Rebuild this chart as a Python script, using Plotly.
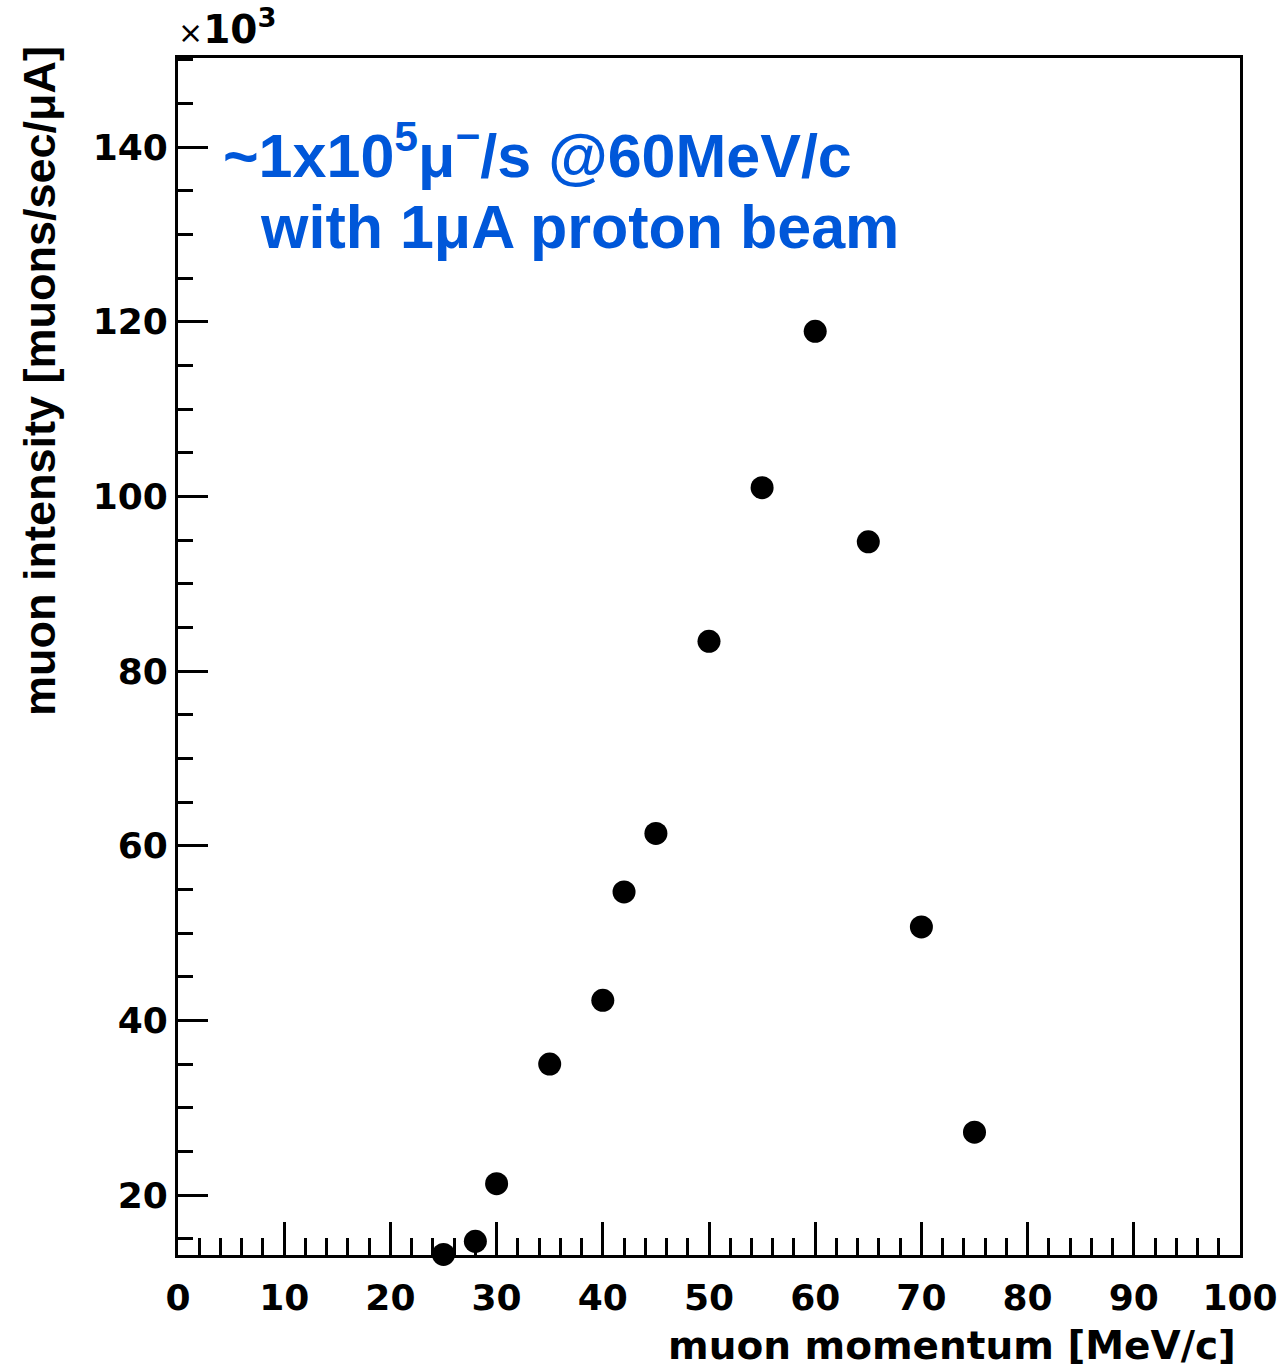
import plotly.graph_objects as go

# muon momentum [MeV/c]
momentum = [25, 28, 30, 35, 40, 42, 45, 50, 55, 60, 65, 70, 75]
# muon intensity [muons/sec/uA], in units of 10^3
intensity = [13.2, 14.7, 21.3, 35.0, 42.3, 54.7, 61.4, 83.4, 101.0, 118.9, 94.8, 50.7, 27.2]

x_ticks = [0, 10, 20, 30, 40, 50, 60, 70, 80, 90, 100]
y_ticks = [20, 40, 60, 80, 100, 120, 140]

W, H = 1280, 1370
L, R, T, B = 178, 40, 58, 115
PW, PH = W - L - R, H - T - B


def px(xp):
    return (xp - L) / PW


def py(yp):
    return (H - B - yp) / PH


fig = go.Figure()
fig.add_trace(go.Scatter(
    x=momentum, y=intensity, mode="markers",
    marker=dict(symbol="circle", size=23, color="black"),
    cliponaxis=False, showlegend=False,
))

tickfont = dict(family="DejaVu Sans", size=36, color="black", weight="bold")
fig.update_layout(
    width=W, height=H,
    margin=dict(l=L, r=R, t=T, b=B, autoexpand=False),
    paper_bgcolor="white", plot_bgcolor="white",
    xaxis=dict(
        range=[0, 100], tickvals=x_ticks, ticktext=[str(v) for v in x_ticks],
        ticks="inside", ticklen=33, tickwidth=2.5, tickcolor="black",
        minor=dict(dtick=2, tick0=0, ticks="inside", ticklen=17, tickwidth=2.5, tickcolor="black"),
        showline=True, linewidth=3, linecolor="black", mirror=True,
        showgrid=False, zeroline=False, tickfont=tickfont, ticklabelstandoff=9,
        automargin=False,
    ),
    yaxis=dict(
        range=[13.13, 150.2], tickvals=y_ticks, ticktext=[str(v) for v in y_ticks],
        ticks="inside", ticklen=30, tickwidth=2.5, tickcolor="black",
        minor=dict(dtick=5, tick0=0, ticks="inside", ticklen=15, tickwidth=2.5, tickcolor="black"),
        showline=True, linewidth=3, linecolor="black", mirror=True,
        showgrid=False, zeroline=False, tickfont=tickfont, ticklabelstandoff=0,
        automargin=False,
    ),
)

blue = "#0057d9"
annos = [
    dict(text="~1x10<sup>5</sup>μ<sup>−</sup>/s @60MeV/c", x=px(221), y=py(151),
         xanchor="left", yanchor="middle",
         font=dict(family="Liberation Sans", size=61, color=blue, weight="bold")),
    dict(text="with 1μA proton beam", x=px(258), y=py(227),
         xanchor="left", yanchor="middle",
         font=dict(family="Liberation Sans", size=61, color=blue, weight="bold")),
    dict(text="muon intensity [muons/sec/μA]", x=px(40), y=py(44),
         xanchor="center", yanchor="top", textangle=-90,
         font=dict(family="Liberation Sans", size=45, color="black", weight="bold")),
    dict(text="muon momentum [MeV/c]", x=px(1238), y=py(1345),
         xanchor="right", yanchor="middle",
         font=dict(family="DejaVu Sans", size=39, color="black", weight="bold")),
    dict(text="<span style='font-weight:normal;font-size:30px'>×</span>10<sup>3</sup>", x=px(176), y=py(54),
         xanchor="left", yanchor="bottom",
         font=dict(family="DejaVu Sans", size=39, color="black", weight="bold")),
]
for a in annos:
    fig.add_annotation(xref="paper", yref="paper", showarrow=False, **a)

fig.write_html("out.html", config={"displayModeBar": False},
               post_script="document.body.style.margin='0';")
